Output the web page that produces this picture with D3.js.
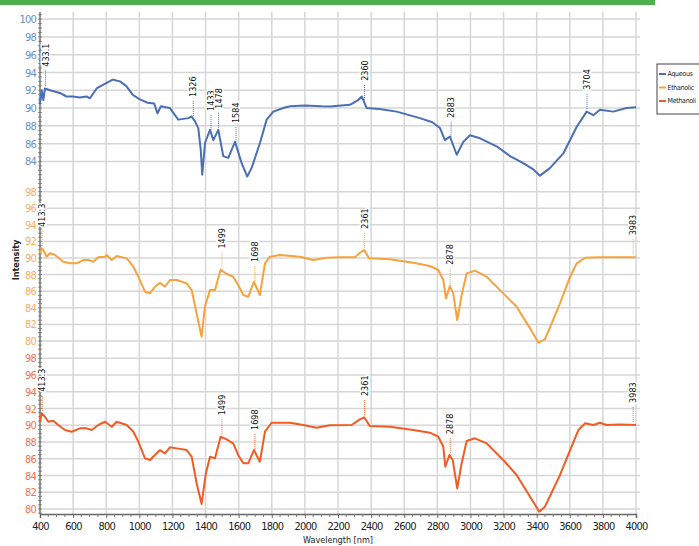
<!DOCTYPE html>
<html>
<head>
<meta charset="utf-8">
<script src="https://cdn.jsdelivr.net/npm/d3@7"></script>
<style>
body { margin: 0; background: #fff; }
text { font-family: "Liberation Sans Narrow", "DejaVu Sans Condensed", "Liberation Sans", sans-serif; }
</style>
</head>
<body>
<svg id="chart" width="699" height="546"></svg>
<script>
// spectra: wavelength [nm] and intensity
const aqueousWl = [400,410,420,430,460,520,560,600,640,682,702,742,780,840,860,883,920,960,1000,1050,1090,1110,1130,1160,1185,1235,1296,1316,1336,1356,1371,1380,1386,1397,1427,1447,1477,1507,1537,1578,1618,1652,1679,1729,1769,1809,1870,1910,2000,2100,2152,2272,2322,2343,2353,2373,2450,2554,2695,2770,2816,2846,2876,2917,2957,2997,3058,3158,3239,3319,3380,3420,3480,3561,3642,3702,3742,3782,3863,3943,4000];
const aqueousInt = [90.55,92.0,90.9,92.2,92.0,91.7,91.3,91.3,91.2,91.3,91.1,92.2,92.6,93.2,93.1,93.0,92.5,91.5,91.0,90.6,90.5,89.4,90.2,90.1,90.0,88.7,88.87,89.05,88.5,87.75,85.3,82.5,83.8,86.1,87.55,86.4,87.55,84.6,84.4,86.2,83.8,82.3,83.3,86.1,88.7,89.6,90.0,90.2,90.3,90.2,90.17,90.36,90.9,91.3,90.9,90.0,89.9,89.6,88.87,88.4,87.75,86.4,86.8,84.75,86.2,86.95,86.6,85.7,84.6,83.8,83.1,82.4,83.25,84.9,87.9,89.6,89.2,89.8,89.6,90.0,90.1];

const ethanolicWl = [400,410,420,440,460,491,541,581,621,662,692,722,752,793,803,833,863,924,964,994,1034,1064,1094,1125,1155,1185,1226,1286,1316,1346,1376,1396,1427,1457,1491,1527,1567,1597,1628,1658,1692,1728,1759,1789,1849,1970,2050,2131,2211,2302,2332,2358,2388,2514,2655,2755,2806,2836,2852,2876,2896,2920,2947,2977,3027,3098,3198,3279,3360,3410,3450,3541,3602,3642,3692,3782,3900,4000];
const ethanolicInt = [90.57,91.17,90.97,90.16,90.57,90.36,89.56,89.36,89.36,89.76,89.76,89.56,90.1,90.16,90.36,89.76,90.24,89.96,88.95,87.75,85.94,85.74,86.54,87.0,86.54,87.35,87.35,86.95,86.14,83.33,80.5,84.13,86.14,86.14,88.6,88.07,87.75,86.75,85.54,85.33,87.14,85.54,89.36,90.16,90.36,90.16,89.76,90.04,90.08,90.08,90.64,90.97,89.96,89.84,89.44,89.04,88.56,87.35,85.14,86.62,85.74,82.53,85.54,88.15,88.47,87.75,85.74,84.13,81.52,79.8,80.2,84.54,87.75,89.36,90.04,90.08,90.08,90.08];

const methanolicWl = [400,410,430,450,480,510,551,591,642,682,712,752,793,833,863,924,964,994,1034,1064,1094,1125,1155,1185,1226,1286,1316,1346,1376,1402,1427,1457,1491,1527,1567,1597,1628,1658,1692,1728,1759,1799,1910,1990,2070,2151,2282,2332,2358,2392,2514,2655,2755,2806,2836,2848,2873,2893,2920,2947,2977,3027,3098,3198,3279,3360,3416,3450,3541,3602,3652,3692,3742,3782,3822,3900,4000];
const methanolicInt = [90.42,91.43,91.02,90.42,90.54,90.03,89.43,89.23,89.63,89.63,89.43,90.03,90.42,89.83,90.42,90.03,89.23,88.04,86.05,85.85,86.45,87.04,86.65,87.37,87.24,87.04,86.25,83.07,80.6,84.26,86.25,86.05,88.63,88.32,87.84,86.45,85.46,85.46,87.04,85.65,89.23,90.3,90.3,90.03,89.71,89.99,90.03,90.71,90.95,89.91,89.83,89.43,89.11,88.63,87.44,85.05,86.45,85.85,82.47,85.46,88.12,88.44,87.84,85.85,84.06,81.47,79.68,80.28,84.06,87.04,89.43,90.23,90.03,90.3,90.03,90.1,90.03];

// marked peaks
const aqueousPeaks = [433.1, 1326, 1433, 1478, 1584, 2360, 2883, 3704];
const ethanolicPeaks = [413.3, 1499, 1698, 2361, 2878, 3983];
const methanolicPeaks = [413.3, 1499, 1698, 2361, 2878, 3983];

// tick labels
const wavelengthTicks = [400,600,800,1000,1200,1400,1600,1800,2000,2200,2400,2600,2800,3000,3200,3400,3600,3800,4000];
const aqueousTicks = [84,86,88,90,92,94,96,98,100];
const ethanolicTicks = [80,82,84,86,88,90,92,94,96,98];
const methanolicTicks = [80,82,84,86,88,90,92,94,96,98];
const seriesNames = ["Aqueous", "Ethanolic", "Methanoli"];

const svg = d3.select("#chart");
const plotLeft = 40, plotRight = 636, plotTop = 12, plotBottom = 514;

svg.append("rect")
    .attr("x", 0).attr("y", 0)
    .attr("width", 655).attr("height", 5)
    .attr("fill", "#4db04d");

var x = d3.scaleLinear()
    .domain([400, 4000])
    .range([plotLeft, plotRight]);

var panels = [
    { wl: aqueousWl, val: aqueousInt, peaks: aqueousPeaks, ticks: aqueousTicks,
      y: d3.scaleLinear().domain([81.8, 100.8]).range([181, plotTop]),
      color: "#4a6fb5", tickColor: "#6b8dcc" },
    { wl: ethanolicWl, val: ethanolicInt, peaks: ethanolicPeaks, ticks: ethanolicTicks,
      y: d3.scaleLinear().domain([78.91, 99.29]).range([350, 181]),
      color: "#f7a23d", tickColor: "#f8ae5e" },
    { wl: methanolicWl, val: methanolicInt, peaks: methanolicPeaks, ticks: methanolicTicks,
      y: d3.scaleLinear().domain([79.4, 98.99]).range([plotBottom, 350]),
      color: "#f25b24", tickColor: "#f47448" }
];

// vertical grid
svg.append("g")
    .selectAll("line")
    .data(wavelengthTicks)
    .join("line")
    .attr("x1", d => x(d)).attr("x2", d => x(d))
    .attr("y1", plotTop).attr("y2", plotBottom)
    .attr("stroke", "#d6d6d6")
    .attr("stroke-width", 1.5);

// horizontal grid + y axes
panels.forEach(function (p) {
    svg.append("g")
        .selectAll("line")
        .data(p.ticks)
        .join("line")
        .attr("x1", plotLeft).attr("x2", plotRight + 4)
        .attr("y1", d => p.y(d)).attr("y2", d => p.y(d))
        .attr("stroke", "#d6d6d6")
        .attr("stroke-width", 1.5);

    var ax = svg.append("g")
        .attr("transform", "translate(" + plotLeft + ",0)")
        .call(d3.axisLeft(p.y).tickValues(p.ticks).tickSize(0).tickPadding(4));
    ax.select(".domain").remove();
    ax.selectAll("text")
        .attr("fill", p.tickColor)
        .style("font-size", "11px")
        .attr("letter-spacing", "-0.8");

    var dom = p.y.domain();
    var minor = d3.range(Math.ceil(dom[0] * 2) / 2, dom[1], 0.5);
    svg.append("g")
        .selectAll("line")
        .data(minor)
        .join("line")
        .attr("x1", plotLeft - 2).attr("x2", plotLeft + 2)
        .attr("y1", d => p.y(d)).attr("y2", d => p.y(d))
        .attr("stroke", "#777")
        .attr("stroke-width", 0.8);
});

svg.append("line")
    .attr("x1", plotLeft).attr("x2", plotLeft)
    .attr("y1", plotTop).attr("y2", plotBottom)
    .attr("stroke", "#666").attr("stroke-width", 1.2);

// x axis
var xa = svg.append("g")
    .attr("transform", "translate(0," + plotBottom + ")")
    .call(d3.axisBottom(x).tickValues(wavelengthTicks).tickSize(4).tickPadding(4).tickFormat(d3.format("d")));
xa.select(".domain").attr("stroke", "#666").attr("stroke-width", 1.5);
xa.selectAll(".tick line").attr("stroke", "#666");
xa.selectAll("text")
    .attr("fill", "#222")
    .style("font-size", "11px")
    .attr("letter-spacing", "-0.8");
svg.append("g")
    .selectAll("line")
    .data(d3.range(450, 4000, 50).filter(d => d % 200 != 0))
    .join("line")
    .attr("x1", d => x(d)).attr("x2", d => x(d))
    .attr("y1", plotBottom).attr("y2", plotBottom + 3)
    .attr("stroke", "#777");

svg.append("text")
    .attr("x", (plotLeft + plotRight) / 2)
    .attr("y", 543)
    .attr("text-anchor", "middle")
    .style("font-size", "9px")
    .attr("fill", "#222")
    .text("Wavelength [nm]");

svg.append("text")
    .attr("transform", "translate(19,260) rotate(-90)")
    .attr("text-anchor", "middle")
    .style("font-size", "9px")
    .style("font-weight", "bold")
    .attr("fill", "#222")
    .text("Intensity");

// curves and peak labels
function valueAt(p, w) {
    var i = d3.bisectLeft(p.wl, w);
    if (i <= 0) return p.val[0];
    if (i >= p.wl.length) return p.val[p.val.length - 1];
    var t = (w - p.wl[i - 1]) / (p.wl[i] - p.wl[i - 1]);
    return p.val[i - 1] + t * (p.val[i] - p.val[i - 1]);
}

panels.forEach(function (p) {
    var line = d3.line()
        .x(d => x(d[0]))
        .y(d => p.y(d[1]));
    svg.append("path")
        .datum(d3.zip(p.wl, p.val))
        .attr("d", line)
        .attr("fill", "none")
        .attr("stroke", p.color)
        .attr("stroke-width", 2)
        .attr("stroke-linejoin", "round");

    p.peaks.forEach(function (w) {
        var px = x(w);
        var py = p.y(valueAt(p, w));
        svg.append("line")
            .attr("x1", px).attr("x2", px)
            .attr("y1", py - 3).attr("y2", py - 19)
            .attr("stroke", p.color)
            .attr("stroke-width", 1)
            .attr("stroke-dasharray", "1,1");
        svg.append("text")
            .attr("transform", "translate(" + px + "," + (py - 22) + ") rotate(-90)")
            .attr("dy", "0.35em")
            .style("font-size", "9px")
            .attr("fill", "#111")
            .attr("stroke", "#fff")
            .attr("stroke-width", 3)
            .attr("paint-order", "stroke")
            .text(String(w));
    });
});

// legend
var lg = svg.append("g").attr("transform", "translate(657,64)");
lg.append("rect")
    .attr("width", 50).attr("height", 50)
    .attr("fill", "#fff")
    .attr("stroke", "#444");
seriesNames.forEach(function (name, i) {
    var ly = 10 + i * 13.5;
    lg.append("line")
        .attr("x1", 2).attr("x2", 9)
        .attr("y1", ly).attr("y2", ly)
        .attr("stroke", panels[i].color)
        .attr("stroke-width", 2);
    lg.append("text")
        .attr("x", 10.5).attr("y", ly)
        .attr("dy", "0.35em")
        .style("font-size", "7px")
        .attr("letter-spacing", "-0.3")
        .attr("fill", "#222")
        .text(name);
});
</script>
</body>
</html>
